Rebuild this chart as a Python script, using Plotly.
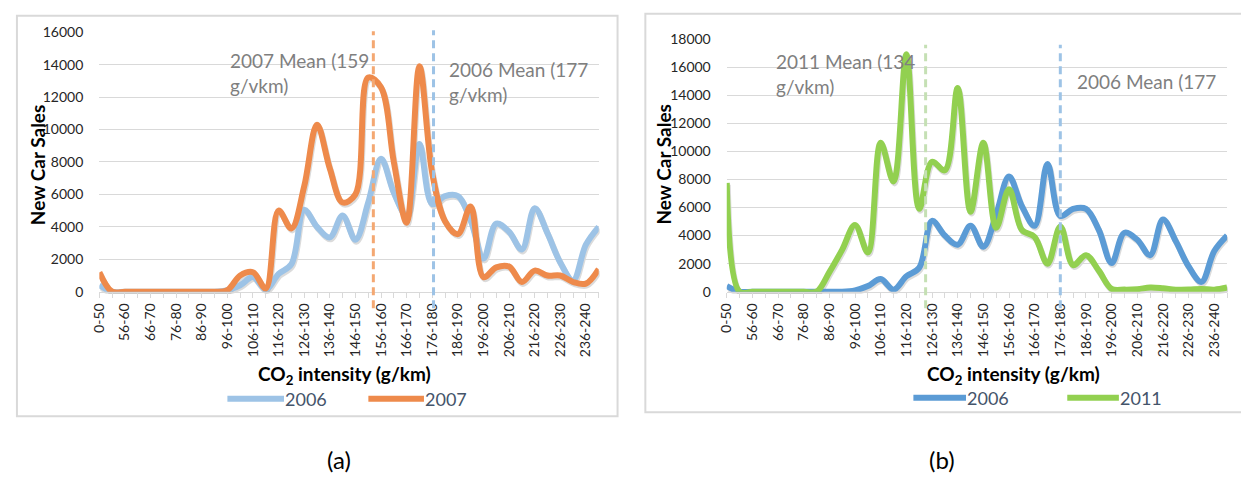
import plotly.graph_objects as go

W, H = 1241, 485

# CO2 intensity bins (g/km)
categories = [
    "0-50", "51-55", "56-60", "61-65", "66-70", "71-75", "76-80", "81-85",
    "86-90", "91-95", "96-100", "101-105", "106-110", "111-115", "116-120",
    "121-125", "126-130", "131-135", "136-140", "141-145", "146-150",
    "151-155", "156-160", "161-165", "166-170", "171-175", "176-180",
    "181-185", "186-190", "191-195", "196-200", "201-205", "206-210",
    "211-215", "216-220", "221-225", "226-230", "231-235", "236-240",
    "241-245",
]

# New car sales per bin
sales_2006 = [
    400, 0, 0, 0, 0, 0, 0, 0, 0, 0,
    100, 400, 900, 150, 1100, 1700, 5050, 4000, 3350, 4700,
    3200, 5500, 8200, 6100, 4700, 9100, 5400, 5900, 5900, 4400,
    2050, 4200, 3700, 2600, 5150, 3600, 1800, 700, 2900, 4000,
]
sales_2007 = [
    1200, 0, 0, 0, 0, 0, 0, 0, 0, 0,
    100, 1000, 1200, 200, 5000, 3900, 6500, 10300, 7600, 5500,
    6000, 13200, 12600, 8000, 4250, 13900, 7300, 4350, 3550, 5250,
    900, 1500, 1550, 600, 1300, 1000, 1000, 600, 500, 1400,
]
sales_2011 = [
    7750, 0, 0, 0, 0, 0, 0, 0, 1400, 3000,
    4750, 2800, 10600, 7850, 16900, 5900, 9250, 8650, 14500, 5700,
    10600, 4550, 7300, 4400, 3900, 2000, 4650, 1900, 2600, 1500,
    200, 150, 180, 300, 250, 150, 150, 200, 150, 300,
]

# Mean CO2 intensity labels (year, g/vkm)
means_a = [("2007", 159), ("2006", 177)]
means_b = [("2011", 134), ("2006", 177)]

FONT = "Lato"
GRID = "#D9D9D9"
TXT_GRAY = "#7F7F7F"
LEG_TXT = "#44546A"
SHADOW = "rgba(0,0,0,0.14)"

C06_A = "#9DC3E6"
C07 = "#EE8A4B"
C06_B = "#5B9BD5"
C11 = "#92D050"


def px(x):
    return x / W


def py(y):
    return 1 - y / H


pos = list(range(len(categories)))
NCAT = len(categories)

# plot-area pixel boxes: (left, right, bottom, top)
BOX_A = (91, 594, 293, 24)
BOX_B = (723, 1227, 293, 31)
SH_DX, SH_DY = 1, 2


def line_trace(y, color, xa, ya, name, width=6):
    return go.Scatter(x=pos, y=y, name=name, mode="lines",
                      line=dict(color=color, width=width, shape="spline", smoothing=1.0),
                      xaxis=xa, yaxis=ya, showlegend=False, hoverinfo="skip")


fig = go.Figure()

# soft drop shadows (drawn first, on offset hidden axes x/y and x2/y2)
fig.add_trace(line_trace(sales_2006, SHADOW, "x", "y", "2006"))
fig.add_trace(line_trace(sales_2007, SHADOW, "x", "y", "2007"))
fig.add_trace(line_trace(sales_2006, SHADOW, "x2", "y2", "2006"))
fig.add_trace(line_trace(sales_2011, SHADOW, "x2", "y2", "2011"))

# visible series: panel (a) on x3/y3, panel (b) on x4/y4
fig.add_trace(line_trace(sales_2006, C06_A, "x3", "y3", "2006"))
fig.add_trace(line_trace(sales_2007, C07, "x3", "y3", "2007"))
fig.add_trace(line_trace(sales_2006, C06_B, "x4", "y4", "2006"))
fig.add_trace(line_trace(sales_2011, C11, "x4", "y4", "2011"))


def xaxis_cfg(box, anchor):
    return dict(
        domain=[px(box[0]), px(box[1])], range=[0, NCAT - 1], anchor=anchor,
        tickmode="array", tickvals=pos[::2], ticktext=categories[::2],
        tickangle=-90, tickfont=dict(family=FONT, size=14, color="#262626"),
        ticks="outside", ticklen=5, tickcolor=GRID,
        minor=dict(tickmode="linear", tick0=0, dtick=1, ticks="outside",
                   ticklen=5, tickcolor=GRID, showgrid=False),
        showline=True, linecolor=GRID, linewidth=1,
        showgrid=False, zeroline=False, fixedrange=True,
    )


def yaxis_cfg(box, ymax, anchor):
    return dict(
        domain=[py(box[2]), py(box[3])], range=[0, ymax], dtick=2000, anchor=anchor,
        tickformat="d",
        tickfont=dict(family=FONT, size=14, color="#262626"),
        ticklabelstandoff=15,
        showgrid=True, gridcolor=GRID, gridwidth=1,
        showline=False, zeroline=False, fixedrange=True,
    )


def shadow_axes(box, ymax, xa, ya):
    xd = dict(domain=[px(box[0] + SH_DX), px(box[1] + SH_DX)], range=[0, NCAT - 1],
              anchor=ya, visible=False, fixedrange=True)
    yd = dict(domain=[py(box[2] + SH_DY), py(box[3] + SH_DY)], range=[0, ymax],
              anchor=xa, visible=False, fixedrange=True)
    return xd, yd


x1s, y1s = shadow_axes(BOX_A, 16000, "x", "y")
x2s, y2s = shadow_axes(BOX_B, 18000, "x2", "y2")

fig.update_layout(
    width=W, height=H,
    margin=dict(l=0, r=0, t=0, b=0),
    paper_bgcolor="white", plot_bgcolor="rgba(0,0,0,0)",
    showlegend=False,
    xaxis=x1s, yaxis=y1s, xaxis2=x2s, yaxis2=y2s,
    xaxis3=xaxis_cfg(BOX_A, "y3"),
    yaxis3=yaxis_cfg(BOX_A, 16000, "x3"),
    xaxis4=xaxis_cfg(BOX_B, "y4"),
    yaxis4=yaxis_cfg(BOX_B, 18000, "x4"),
)

shapes = []
annotations = []

# Chart frames
shapes.append(dict(type="rect", xref="paper", yref="paper",
                   x0=px(8), x1=px(613), y0=py(422), y1=py(7),
                   line=dict(color=GRID, width=2), layer="below"))
shapes.append(dict(type="rect", xref="paper", yref="paper",
                   x0=px(641), x1=px(1250), y0=py(418), y1=py(5),
                   line=dict(color=GRID, width=2), layer="below"))

# Mean markers: axis, position on axis, colour, label, text anchor, wrap, line top
mean_marks = [
    ("x3", 21.4, "#F4A872", means_a[0], 221, 53, True, 23),
    ("x3", 26.1, "#9DC3E6", means_a[1], 441, 63, True, 22),
    ("x4", 15.5, "#C5E0B4", means_b[0], 771, 54, True, 37),
    ("x4", 26.0, "#9DC3E6", means_b[1], 1074, 75, False, 37),
]
for xr, xpos, col, (yr, mval), tx, ty, two_lines, top in mean_marks:
    shapes.append(dict(type="line", xref=xr, yref="paper",
                       x0=xpos, x1=xpos, y0=py(310), y1=py(top),
                       line=dict(color=col, width=3, dash="8px,5px")))
    annotations.append(dict(xref="paper", yref="paper", x=px(tx), y=py(ty),
                            xanchor="left", yanchor="middle", showarrow=False,
                            text=f"{yr} Mean ({mval}",
                            font=dict(family=FONT, size=19, color=TXT_GRAY)))
    if two_lines:
        annotations.append(dict(xref="paper", yref="paper", x=px(tx), y=py(ty + 26),
                                xanchor="left", yanchor="middle", showarrow=False,
                                text="g/vkm)",
                                font=dict(family=FONT, size=19, color=TXT_GRAY)))

# Axis titles
for cx in (29, 659):
    annotations.append(dict(xref="paper", yref="paper", x=px(cx), y=py(161),
                            text="<b>New Car Sales</b>", textangle=-90, showarrow=False,
                            xanchor="center", yanchor="middle",
                            font=dict(family=FONT, size=19, color="black")))
for cx, cy in ((338, 379), (1012, 379)):
    annotations.append(dict(xref="paper", yref="paper", x=px(cx), y=py(cy),
                            text="<b>CO<sub>2</sub> intensity (g/km)</b>", showarrow=False,
                            xanchor="center", yanchor="middle",
                            font=dict(family=FONT, size=19, color="black")))

# Legends
legend_items = [
    (220, 277, 404, C06_A, "2006"),
    (362, 418, 404, C07, "2007"),
    (911, 964, 403, C06_B, "2006"),
    (1066, 1118, 403, C11, "2011"),
]
for x0, x1, ly, col, lab in legend_items:
    shapes.append(dict(type="line", xref="paper", yref="paper",
                       x0=px(x0), x1=px(x1), y0=py(ly), y1=py(ly),
                       line=dict(color=col, width=6)))
    annotations.append(dict(xref="paper", yref="paper", x=px(x1 - 1), y=py(ly),
                            text=lab, showarrow=False, xanchor="left", yanchor="middle",
                            font=dict(family=FONT, size=18, color=LEG_TXT)))

# Panel captions
for cx, lab in ((332, "(a)"), (940, "(b)")):
    annotations.append(dict(xref="paper", yref="paper", x=px(cx), y=py(467),
                            text=lab, showarrow=False, xanchor="center", yanchor="middle",
                            font=dict(family=FONT, size=24, color="black")))

fig.update_layout(shapes=shapes, annotations=annotations)
fig.write_html("out.html")
